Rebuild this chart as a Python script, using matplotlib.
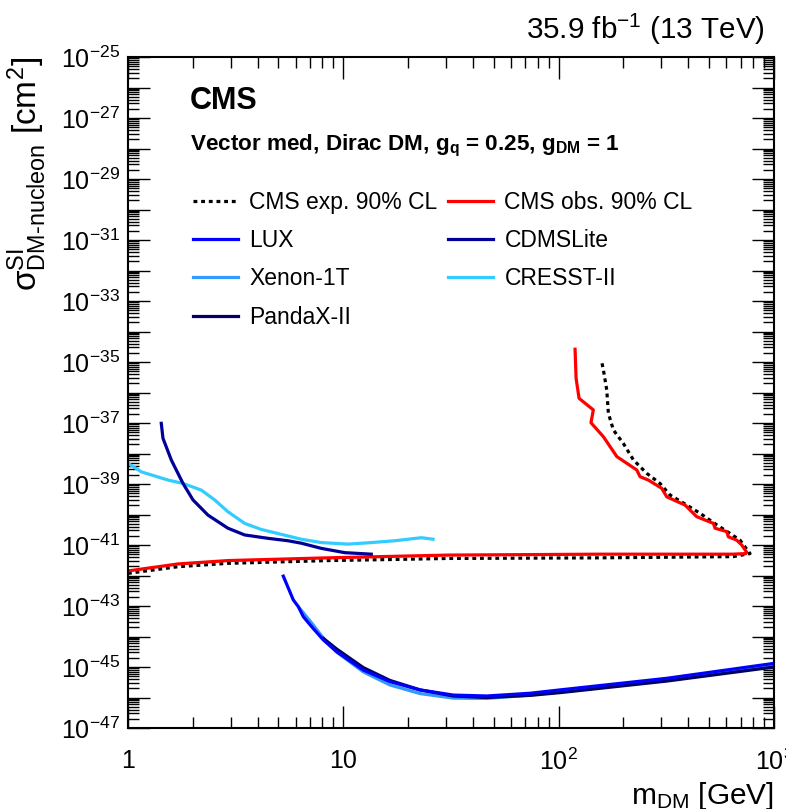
import matplotlib
matplotlib.use("Agg")
import matplotlib.pyplot as plt
import numpy as np
from matplotlib.ticker import FixedLocator, FuncFormatter, NullFormatter

plt.rcParams['font.family'] = ['Liberation Sans', 'DejaVu Sans']
plt.rcParams['mathtext.fontset'] = 'custom'
plt.rcParams['mathtext.rm'] = 'Liberation Sans'
plt.rcParams['mathtext.it'] = 'Liberation Sans:italic'
plt.rcParams['mathtext.bf'] = 'Liberation Sans:bold'

# CMS observed limit: lower branch left->right, then up the nose and back to the left
obs_m = [1, 1.71, 2.91, 8.49, 30.6, 155.6, 646, 740,
         747.6, 708.5, 671.6, 614, 603.5, 532.7, 523, 437.7, 386.5, 317.8, 301,
         261, 238.8, 230.6, 186.3, 161.4, 141.3, 144.9, 124.4, 120.5, 119.2]
obs_log = [-41.85, -41.62, -41.51, -41.42, -41.33, -41.30, -41.30, -41.28,
           -41.24, -41.0, -40.84, -40.73, -40.56, -40.45, -40.29, -40.07, -39.69, -39.42, -39.14,
           -38.87, -38.76, -38.54, -38.10, -37.45, -36.99, -36.57, -36.19, -35.53, -34.58]

# CMS expected limit
exp_m = [1, 1.71, 2.91, 8.49, 18.3, 30.6, 155.6, 646, 774,
         695.4, 625, 542.4, 453.6, 393.6, 329, 295.6, 256.6, 222.4, 199.8,
         179.6, 170.2, 167.3, 161.4, 158.5]
exp_log = [-41.93, -41.71, -41.60, -41.51, -41.47, -41.44, -41.42, -41.38, -41.28,
           -40.84, -40.62, -40.34, -39.96, -39.69, -39.36, -38.98, -38.65, -38.21, -37.67,
           -37.23, -36.68, -35.92, -35.26, -34.99]

lux_m = [5.264, 5.859, 6.18, 6.522, 7.134, 8.074, 9.318, 12.39, 16.48, 22.71,
         32.43, 46.36, 73.65, 101.5, 317.8, 1000]
lux_log = [-42.02, -42.80, -43.02, -43.35, -43.68, -44.11, -44.50, -45.10, -45.48, -45.75,
           -45.92, -45.95, -45.86, -45.75, -45.37, -44.88]

xenon_m = [6.277, 7.134, 8.074, 9.318, 12.39, 16.48, 22.71, 32.43, 46.36, 73.65, 101.5, 317.8, 1000]
xenon_log = [-43.08, -43.56, -44.05, -44.51, -45.16, -45.59, -45.87, -46.02, -46.03, -45.92,
             -45.82, -45.44, -44.97]

panda_m = [8.074, 9.318, 12.39, 16.48, 22.71, 32.43, 46.36, 73.65, 101.5, 317.8, 1000]
panda_log = [-44.06, -44.41, -45.02, -45.44, -45.75, -45.95, -46.0, -45.93, -45.84, -45.46, -45.0]

cdms_m = [1.428, 1.454, 1.589, 1.801, 2.004, 2.353, 2.914, 3.483, 4.47, 5.536, 6.381,
          7.904, 10.15, 13.49]
cdms_log = [-37.01, -37.50, -38.21, -38.98, -39.52, -40.02, -40.45, -40.67, -40.78, -40.86,
            -40.94, -41.11, -41.25, -41.30]

cresst_m = [1, 1.153, 1.534, 1.801, 2.19, 2.527, 2.914, 3.483, 4.16, 5.153, 6.381, 7.904,
            10.51, 13.49, 17.33, 23.03, 26.11]
cresst_log = [-38.32, -38.60, -38.87, -38.98, -39.20, -39.52, -39.91, -40.29, -40.49, -40.65,
              -40.81, -40.92, -40.97, -40.92, -40.86, -40.76, -40.81]

fig = plt.figure(figsize=(7.86, 8.09), dpi=100)
ax = fig.add_axes([0.1628, 0.1001, 0.8219, 0.8294])

lw = 2.3
h_exp, = ax.plot(exp_m, 10.0 ** np.array(exp_log), color='black', lw=lw, ls=(0, (1.2, 1.2)),
                 label='CMS exp. 90% CL')
h_obs, = ax.plot(obs_m, 10.0 ** np.array(obs_log), color='#ff0000', lw=lw, label='CMS obs. 90% CL')
h_cres, = ax.plot(cresst_m, 10.0 ** np.array(cresst_log), color='#33ccff', lw=lw, label='CRESST-II')
h_cdms, = ax.plot(cdms_m, 10.0 ** np.array(cdms_log), color='#000099', lw=lw, label='CDMSLite')
h_xen, = ax.plot(xenon_m, 10.0 ** np.array(xenon_log), color='#3399ff', lw=lw, label='Xenon-1T')
h_pan, = ax.plot(panda_m, 10.0 ** np.array(panda_log), color='#000066', lw=lw, label='PandaX-II')
h_lux, = ax.plot(lux_m, 10.0 ** np.array(lux_log), color='#0000ff', lw=lw, label='LUX')

ax.set_xscale('log')
ax.set_yscale('log')
ax.set_xlim(1, 1000)
ax.set_ylim(1e-47, 1e-25)

# ticks, ROOT style: inside, on all four sides
ax.tick_params(which='both', direction='in', top=True, right=True, width=1)
ax.tick_params(which='major', length=16, labelsize=18)
ax.tick_params(which='minor', length=8)
ax.tick_params(axis='x', which='major', pad=15)
ax.tick_params(axis='y', which='major', pad=6)

xmaj = [1, 10, 100, 1000]
xlabels = {1: '1', 10: '10', 100: r'$10^{2}$', 1000: r'$10^{3}$'}
ax.xaxis.set_major_locator(FixedLocator(xmaj))
ax.xaxis.set_major_formatter(FuncFormatter(lambda v, p: xlabels.get(int(round(v)), '')))
xminor = [k * 10 ** e for e in range(0, 3) for k in range(2, 10)]
ax.xaxis.set_minor_locator(FixedLocator(xminor))
ax.xaxis.set_minor_formatter(NullFormatter())

ymaj = [10.0 ** e for e in range(-47, -24)]
ax.yaxis.set_major_locator(FixedLocator(ymaj))


def ylab(v, p):
    e = int(round(np.log10(v)))
    if e % 2 != 0:
        return r'$10^{%d}$' % e
    return ''


ax.yaxis.set_major_formatter(FuncFormatter(ylab))
yminor = [k * 10.0 ** e for e in range(-47, -25) for k in range(2, 10)]
ax.yaxis.set_minor_locator(FixedLocator(yminor))
ax.yaxis.set_minor_formatter(NullFormatter())
for s in ax.spines.values():
    s.set_linewidth(1.5)

ax.set_xlabel(r'm$_{\mathrm{DM}}$ [GeV]', fontsize=21.5, loc='right')
ax.xaxis.set_label_coords(1.0, -0.077)
ax.set_ylabel('$\\mathrm{\u03c3}^{\\mathrm{SI}}_{\\mathrm{DM\u2010nucleon}}$ [cm$^{2}$]',
              fontsize=24, loc='top')
ax.yaxis.set_label_coords(-0.122, 1.0)

fig.text(0.973, 0.952, r'35.9 fb$^{-1}$ (13 TeV)', fontsize=21.3, ha='right', va='baseline')
ax.text(0.096, 0.935, 'CMS', fontsize=22, fontweight='bold', transform=ax.transAxes, va='center')
ax.text(0.096, 0.868, r'Vector med, Dirac DM, g$_{\mathbf{q}}$ = 0.25, g$_{\mathbf{DM}}$ = 1',
        fontsize=16.2, fontweight='bold', transform=ax.transAxes, va='center')

handles = [h_exp, h_lux, h_xen, h_pan, h_obs, h_cdms, h_cres]
ax.legend(handles=handles, ncol=2, frameon=False, fontsize=16.5, loc='upper left',
          bbox_to_anchor=(0.087, 0.8145), handlelength=1.96, handletextpad=0.48,
          columnspacing=0.48, labelspacing=0.67, borderaxespad=0)

fig.savefig('out.png', dpi=100)
